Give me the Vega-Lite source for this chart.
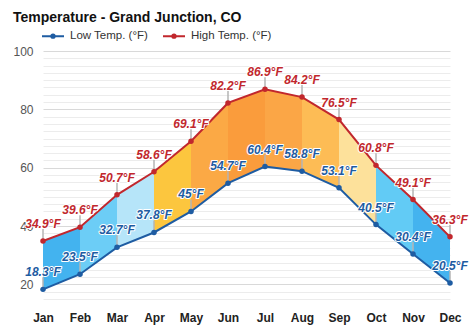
{
  "$schema": "https://vega.github.io/schema/vega-lite/v6.json",
  "width": 407,
  "height": 248,
  "autosize": {"type": "none"},
  "padding": {"left": 43, "top": 51, "right": 24, "bottom": 32},
  "background": "white",
  "config": {"font": "Liberation Sans", "view": {"stroke": null}},
  "title": {"text": "Temperature - Grand Junction, CO", "anchor": "start", "fontSize": 14, "fontWeight": "bold", "color": "#111", "offset": -1},
  "datasets": {
    "temps": [
      {"m": 1, "month": "Jan", "low": 18.3, "high": 34.9},
      {"m": 2, "month": "Feb", "low": 23.5, "high": 39.6},
      {"m": 3, "month": "Mar", "low": 32.7, "high": 50.7},
      {"m": 4, "month": "Apr", "low": 37.8, "high": 58.6},
      {"m": 5, "month": "May", "low": 45, "high": 69.1},
      {"m": 6, "month": "Jun", "low": 54.7, "high": 82.2},
      {"m": 7, "month": "Jul", "low": 60.4, "high": 86.9},
      {"m": 8, "month": "Aug", "low": 58.8, "high": 84.2},
      {"m": 9, "month": "Sep", "low": 53.1, "high": 76.5},
      {"m": 10, "month": "Oct", "low": 40.5, "high": 60.8},
      {"m": 11, "month": "Nov", "low": 30.4, "high": 49.1},
      {"m": 12, "month": "Dec", "low": 20.5, "high": 36.3}
    ],
    "bands": [
      {"seg": "Jan-Feb", "m": 1, "low": 18.3, "high": 34.9},
      {"seg": "Jan-Feb", "m": 2, "low": 23.5, "high": 39.6},
      {"seg": "Feb-Mar", "m": 2, "low": 23.5, "high": 39.6},
      {"seg": "Feb-Mar", "m": 3, "low": 32.7, "high": 50.7},
      {"seg": "Mar-Apr", "m": 3, "low": 32.7, "high": 50.7},
      {"seg": "Mar-Apr", "m": 4, "low": 37.8, "high": 58.6},
      {"seg": "Apr-May", "m": 4, "low": 37.8, "high": 58.6},
      {"seg": "Apr-May", "m": 5, "low": 45, "high": 69.1},
      {"seg": "May-Jun", "m": 5, "low": 45, "high": 69.1},
      {"seg": "May-Jun", "m": 6, "low": 54.7, "high": 82.2},
      {"seg": "Jun-Jul", "m": 6, "low": 54.7, "high": 82.2},
      {"seg": "Jun-Jul", "m": 7, "low": 60.4, "high": 86.9},
      {"seg": "Jul-Aug", "m": 7, "low": 60.4, "high": 86.9},
      {"seg": "Jul-Aug", "m": 8, "low": 58.8, "high": 84.2},
      {"seg": "Aug-Sep", "m": 8, "low": 58.8, "high": 84.2},
      {"seg": "Aug-Sep", "m": 9, "low": 53.1, "high": 76.5},
      {"seg": "Sep-Oct", "m": 9, "low": 53.1, "high": 76.5},
      {"seg": "Sep-Oct", "m": 10, "low": 40.5, "high": 60.8},
      {"seg": "Oct-Nov", "m": 10, "low": 40.5, "high": 60.8},
      {"seg": "Oct-Nov", "m": 11, "low": 30.4, "high": 49.1},
      {"seg": "Nov-Dec", "m": 11, "low": 30.4, "high": 49.1},
      {"seg": "Nov-Dec", "m": 12, "low": 20.5, "high": 36.3}
    ]
  },
  "resolve": {"axis": {"y": "independent"}},
  "encoding": {
    "x": {
      "field": "m", "type": "quantitative",
      "scale": {"domain": [1, 12], "nice": false, "zero": false},
      "axis": {
        "values": [1, 2, 3, 4, 5, 6, 7, 8, 9, 10, 11, 12],
        "labelExpr": "['Jan','Feb','Mar','Apr','May','Jun','Jul','Aug','Sep','Oct','Nov','Dec'][datum.value - 1]",
        "grid": false, "ticks": false, "domain": false, "title": null,
        "labelFontWeight": "bold", "labelFontSize": 12, "labelColor": "#222",
        "labelPadding": 13, "labelFlush": false, "labelOverlap": false
      }
    }
  },
  "layer": [
    {
      "data": {"name": "bands"},
      "mark": {"type": "area", "opacity": 1},
      "encoding": {
        "y": {
          "field": "high", "type": "quantitative",
          "scale": {"domain": [15, 100], "nice": false, "zero": false},
          "axis": {
            "orient": "left",
            "values": [15, 17.5, 22.5, 25, 27.5, 30, 32.5, 35, 37.5, 42.5, 45, 47.5, 50, 52.5, 55, 57.5, 62.5, 65, 67.5, 70, 72.5, 75, 77.5, 82.5, 85, 87.5, 90, 92.5, 95, 97.5],
            "labels": false, "grid": true, "gridColor": "#ececec", "gridWidth": 1,
            "ticks": false, "domain": false, "title": null
          }
        },
        "y2": {"field": "low"},
        "fill": {
          "field": "seg", "type": "nominal",
          "scale": {
            "domain": ["Jan-Feb", "Feb-Mar", "Mar-Apr", "Apr-May", "May-Jun", "Jun-Jul", "Jul-Aug", "Aug-Sep", "Sep-Oct", "Oct-Nov", "Nov-Dec"],
            "range": ["#43b3ef", "#6ccdf6", "#b6e5f9", "#fcc63e", "#fba945", "#fa9c3c", "#fba646", "#fdbc55", "#fde19b", "#62cbf5", "#44b3ef"]
          },
          "legend": null
        },
        "detail": {"field": "seg"}
      }
    },
    {
      "data": {"name": "temps"},
      "transform": [{"fold": ["low", "high"], "as": ["series", "temp"]}],
      "mark": {"type": "rule", "color": "#b5b5b5", "strokeWidth": 1.5, "y2Offset": -12},
      "encoding": {
        "y": {
          "field": "temp", "type": "quantitative",
          "scale": {"domain": [15, 100], "nice": false, "zero": false},
          "axis": {
            "orient": "left",
            "values": [20, 40, 60, 80, 100],
            "grid": true, "gridColor": "#d9d9d9", "gridWidth": 1,
            "ticks": false, "domain": false, "title": null,
            "labelFontSize": 12, "labelColor": "#555", "labelPadding": 10,
            "labelFlush": false, "labelOverlap": false
          }
        },
        "y2": {"field": "temp"}
      }
    },
    {
      "data": {"name": "temps"},
      "transform": [{"fold": ["low", "high"], "as": ["series", "temp"]}],
      "mark": {"type": "line", "strokeWidth": 2},
      "encoding": {
        "y": {"field": "temp", "type": "quantitative", "axis": null},
        "stroke": {
          "field": "series", "type": "nominal",
          "scale": {"domain": ["low", "high"], "range": ["#1e5ca2", "#c1272d"]},
          "legend": {
            "orient": "none", "legendX": -2, "legendY": -27, "direction": "horizontal", "title": null,
            "symbolType": "M-1,0L1,0M-0.15,0A0.15,0.15,0,1,1,0.15,0A0.15,0.15,0,1,1,-0.15,0Z",
            "symbolSize": 484, "symbolStrokeWidth": 2,
            "labelFontSize": 11.5, "labelColor": "#333", "labelOffset": 5, "columnPadding": 10,
            "labelExpr": "datum.value === 'low' ? 'Low Temp. (°F)' : 'High Temp. (°F)'"
          }
        }
      }
    },
    {
      "data": {"name": "temps"},
      "transform": [{"fold": ["low", "high"], "as": ["series", "temp"]}],
      "mark": {"type": "circle", "size": 30, "opacity": 1},
      "encoding": {
        "y": {"field": "temp", "type": "quantitative", "axis": null},
        "color": {
          "field": "series", "type": "nominal",
          "scale": {"domain": ["low", "high"], "range": ["#1e5ca2", "#c1272d"]},
          "legend": null
        }
      }
    },
    {
      "data": {"name": "temps"},
      "transform": [
        {"fold": ["low", "high"], "as": ["series", "temp"]},
        {"calculate": "datum.temp + '°F'", "as": "label"}
      ],
      "mark": {"type": "text", "fontSize": 12, "fontWeight": "bold", "fontStyle": "italic", "dy": -17, "baseline": "middle", "fill": "white", "stroke": "white", "strokeWidth": 2, "strokeJoin": "round"},
      "encoding": {
        "y": {"field": "temp", "type": "quantitative", "axis": null},
        "text": {"field": "label"}
      }
    },
    {
      "data": {"name": "temps"},
      "transform": [
        {"fold": ["low", "high"], "as": ["series", "temp"]},
        {"calculate": "datum.temp + '°F'", "as": "label"}
      ],
      "mark": {"type": "text", "fontSize": 12, "fontWeight": "bold", "fontStyle": "italic", "dy": -17, "baseline": "middle"},
      "encoding": {
        "y": {"field": "temp", "type": "quantitative", "axis": null},
        "text": {"field": "label"},
        "color": {
          "field": "series", "type": "nominal",
          "scale": {"domain": ["low", "high"], "range": ["#1e5ca2", "#c1272d"]},
          "legend": null
        }
      }
    }
  ]
}
